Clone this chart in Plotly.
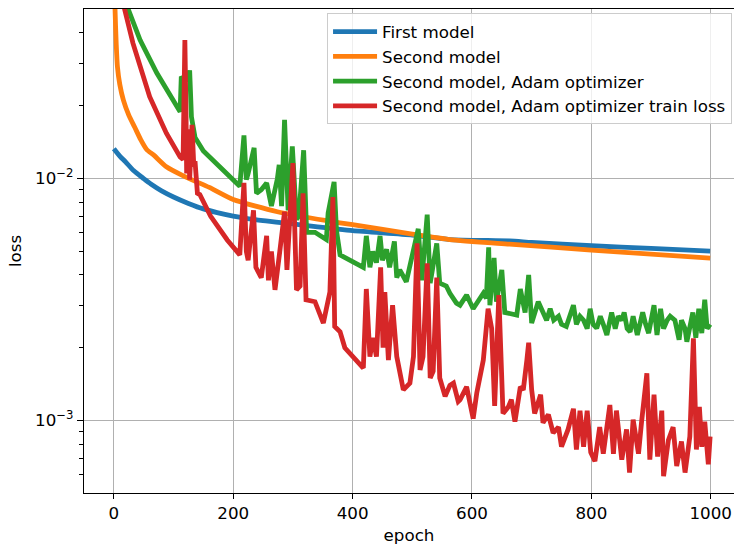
import plotly.graph_objects as go

# ---- data ----
first_epochs = [0, 10, 20, 33, 50, 62, 80, 100, 125, 150, 200, 250, 300, 400, 500, 563, 663, 700, 800, 900, 999]
first_loss = [0.0133, 0.0124, 0.0117, 0.0108, 0.0100, 0.0095, 0.0089, 0.0084, 0.0079, 0.0075, 0.0070,
              0.0067, 0.0065, 0.0061, 0.00585, 0.0056, 0.00553, 0.00545, 0.00528, 0.00515, 0.00502]

second_epochs = [0, 2, 4, 6, 10, 16, 25, 35, 45, 55, 67, 88, 119, 160, 200, 274, 357, 400, 500, 563,
                 663, 800, 999]
second_loss = [0.09, 0.05, 0.036, 0.029, 0.0245, 0.0211, 0.0183, 0.0163, 0.0145, 0.0132, 0.0125,
               0.0112, 0.0102, 0.0092, 0.0082, 0.0073, 0.0067, 0.00645, 0.0059, 0.0056, 0.00536,
               0.00507, 0.00469]

adam_epochs = [0, 10, 24, 44, 72, 105, 111, 113, 118, 124, 127, 130, 136, 150, 173, 192, 211, 218,
               222, 225, 233, 235, 239, 247, 256, 260, 264, 274, 277, 281, 286, 292, 299, 306, 310,
               318, 323, 337, 356, 359, 369, 373, 379, 418, 423, 429, 434, 440, 446, 450, 457, 462,
               470, 474, 479, 490, 501, 503, 510, 516, 525, 530, 541, 546, 557, 563, 574, 580, 591,
               602, 610, 619, 624, 628, 630, 637, 641, 650, 655, 675, 681, 689, 695, 700, 711, 720,
               725, 731, 737, 745, 750, 758, 764, 770, 775, 781, 787, 793, 798, 803, 809, 815, 820,
               826, 834, 840, 845, 851, 855, 860, 865, 870, 877, 886, 891, 896, 905, 910, 916, 921,
               927, 932, 940, 947, 951, 957, 960, 966, 970, 975, 980, 985, 990, 994, 999]
adam_loss = [0.15, 0.085, 0.0502, 0.0374, 0.0273, 0.0198, 0.0189, 0.0264, 0.0255, 0.026, 0.028,
             0.018, 0.0148, 0.0130, 0.0114, 0.0103, 0.0093, 0.0151, 0.0099, 0.0105, 0.0130, 0.0134,
             0.0087, 0.0090, 0.0096, 0.0085, 0.0077, 0.0100, 0.0114, 0.0077, 0.0175, 0.0074, 0.0136,
             0.0068, 0.0070, 0.0131, 0.0060, 0.0060, 0.0056, 0.0072, 0.0097, 0.0061, 0.00484, 0.0043,
             0.0058, 0.0043, 0.0050, 0.0045, 0.0058, 0.0046, 0.0051, 0.0043, 0.0055, 0.0039, 0.0042,
             0.00375, 0.0049, 0.0053, 0.0062, 0.0038, 0.0071, 0.0037, 0.0054, 0.0037, 0.0036,
             0.00336, 0.00306, 0.0030, 0.0033, 0.0029, 0.0031, 0.00336, 0.0032, 0.0052, 0.0030,
             0.0047, 0.0031, 0.0042, 0.0028, 0.00273, 0.0035, 0.0028, 0.0040, 0.00253, 0.0031,
             0.0028, 0.0026, 0.0029, 0.0026, 0.0027, 0.0025, 0.00245, 0.0027, 0.0030, 0.0025,
             0.0027, 0.0026, 0.0024, 0.0029, 0.0025, 0.00241, 0.0027, 0.0025, 0.00226, 0.0028,
             0.0024, 0.0027, 0.0026, 0.0028, 0.0024, 0.00233, 0.0027, 0.00226, 0.0028, 0.0025,
             0.0023, 0.0030, 0.00226, 0.0029, 0.0024, 0.0026, 0.0027, 0.0026, 0.00216, 0.0026,
             0.0024, 0.00212, 0.0025, 0.0028, 0.0022, 0.0029, 0.0023, 0.00316, 0.0024, 0.0025]

train_epochs = [0, 10, 18, 32, 60, 88, 111, 116, 119, 121, 122, 125, 127, 131, 134, 136, 140, 144,
                162, 190, 211, 218, 222, 225, 234, 238, 247, 256, 259, 264, 270, 278, 286, 290, 295,
                300, 306, 312, 317, 322, 337, 351, 362, 367, 370, 379, 387, 396, 418, 423, 429, 434,
                440, 447, 451, 454, 460, 467, 474, 485, 496, 502, 508, 513, 518, 525, 530, 535, 541,
                546, 555, 563, 569, 577, 580, 591, 602, 608, 619, 627, 633, 638, 645, 652, 661, 666,
                672, 681, 686, 692, 695, 700, 705, 715, 719, 728, 736, 745, 750, 761, 770, 775, 781,
                787, 793, 799, 806, 814, 820, 831, 837, 842, 851, 859, 864, 870, 879, 884, 893, 898,
                905, 911, 918, 921, 929, 937, 943, 951, 957, 965, 971, 976, 981, 985, 990, 996, 999]
train_loss = [0.2, 0.09, 0.0502, 0.0363, 0.0218, 0.0154, 0.0123, 0.0120, 0.0374, 0.0180, 0.0105,
              0.0160, 0.0099, 0.0167, 0.0112, 0.0118, 0.0087, 0.0086, 0.0070, 0.00558, 0.00484,
              0.0096, 0.0050, 0.0046, 0.0074, 0.0043, 0.0039, 0.0058, 0.0038, 0.0050, 0.00347,
              0.0050, 0.0073, 0.0042, 0.0066, 0.0116, 0.00347, 0.0036, 0.0087, 0.00316, 0.0031,
              0.00253, 0.0034, 0.0084, 0.00245, 0.00233, 0.0020, 0.0019, 0.00165, 0.0035, 0.00184,
              0.0022, 0.00184, 0.0043, 0.0020, 0.0034, 0.00178, 0.0030, 0.00184, 0.00134, 0.00143,
              0.00184, 0.0054, 0.00162, 0.00184, 0.00447, 0.0015, 0.0016, 0.0039, 0.0015, 0.00126,
              0.0014, 0.00143, 0.0012, 0.00122, 0.00138, 0.00102, 0.0013, 0.00178, 0.0029, 0.0024,
              0.00115, 0.0033, 0.00107, 0.00114, 0.00122, 0.00099, 0.00138, 0.00134, 0.00178,
              0.0021, 0.00134, 0.00107, 0.00128, 0.00098, 0.00106, 0.00089, 0.00094, 0.00078,
              0.00092, 0.00112, 0.00076, 0.0011, 0.00078, 0.0011, 0.00074, 0.00068, 0.00094,
              0.00073, 0.00116, 0.00073, 0.0011, 0.00069, 0.00092, 0.00061, 0.00101, 0.00073,
              0.00098, 0.00157, 0.00069, 0.00128, 0.00071, 0.0011, 0.00059, 0.00083, 0.00094,
              0.00065, 0.00082, 0.00061, 0.00086, 0.00219, 0.00076, 0.00114, 0.00078, 0.00099,
              0.00066, 0.00086]

names = ["First model", "Second model", "Second model, Adam optimizer",
         "Second model, Adam optimizer train loss"]
colors = ["#1f77b4", "#ff7f0e", "#2ca02c", "#d62728"]

x_ticks = [0, 200, 400, 600, 800, 1000]
y_ticks = [1e-3, 1e-2]
y_ticktext = ["10<sup>\u22123</sup>", "10<sup>\u22122</sup>"]
y_minor = [6e-4, 7e-4, 8e-4, 9e-4, 2e-3, 3e-3, 4e-3, 5e-3, 6e-3, 7e-3, 8e-3, 9e-3,
           2e-2, 3e-2, 4e-2]

FONT = "DejaVu Sans"
FS = 16.7

fig = go.Figure()
series = [(first_epochs, first_loss, "spline"), (second_epochs, second_loss, "spline"),
          (adam_epochs, adam_loss, "linear"), (train_epochs, train_loss, "linear")]
for (xs, ys, shape), name, c in zip(series, names, colors):
    fig.add_trace(go.Scatter(x=xs, y=ys, mode="lines", name=name,
                             line=dict(color=c, width=4.8, shape=shape, smoothing=0.6)))

fig.update_layout(
    width=734, height=548,
    margin=dict(l=84, r=0, t=9, b=55),
    paper_bgcolor="white", plot_bgcolor="white",
    font=dict(family=FONT, size=FS, color="black"),
    legend=dict(x=0.997, y=0.991, xanchor="right", yanchor="top",
                bgcolor="rgba(255,255,255,0.8)", bordercolor="#cccccc", borderwidth=1,
                itemwidth=44,
                font=dict(family=FONT, size=FS)),
    showlegend=True,
)
fig.update_xaxes(
    range=[-50, 1039], tickvals=x_ticks, ticks="outside", ticklen=5, tickwidth=1.2,
    tickcolor="black", showline=True, linecolor="black", linewidth=1.2, mirror=True,
    showgrid=True, gridcolor="#b0b0b0", gridwidth=1.2, zeroline=False,
    title=dict(text="epoch", standoff=7, font=dict(family=FONT, size=FS)),
)
fig.update_yaxes(
    type="log", range=[-3.299, -1.299], tickvals=y_ticks, ticktext=y_ticktext,
    ticks="outside", ticklen=6, tickwidth=1.2, tickcolor="black",
    showline=True, linecolor="black", linewidth=1.2, mirror=False,
    showgrid=True, gridcolor="#b0b0b0", gridwidth=1.2, zeroline=False,
    minor=dict(tickmode="array", tickvals=y_minor, ticks="outside", ticklen=3.5,
               tickcolor="black", tickwidth=1, showgrid=False),
    title=dict(text="loss", standoff=9, font=dict(family=FONT, size=FS)),
)

fig.write_html("out.html")
